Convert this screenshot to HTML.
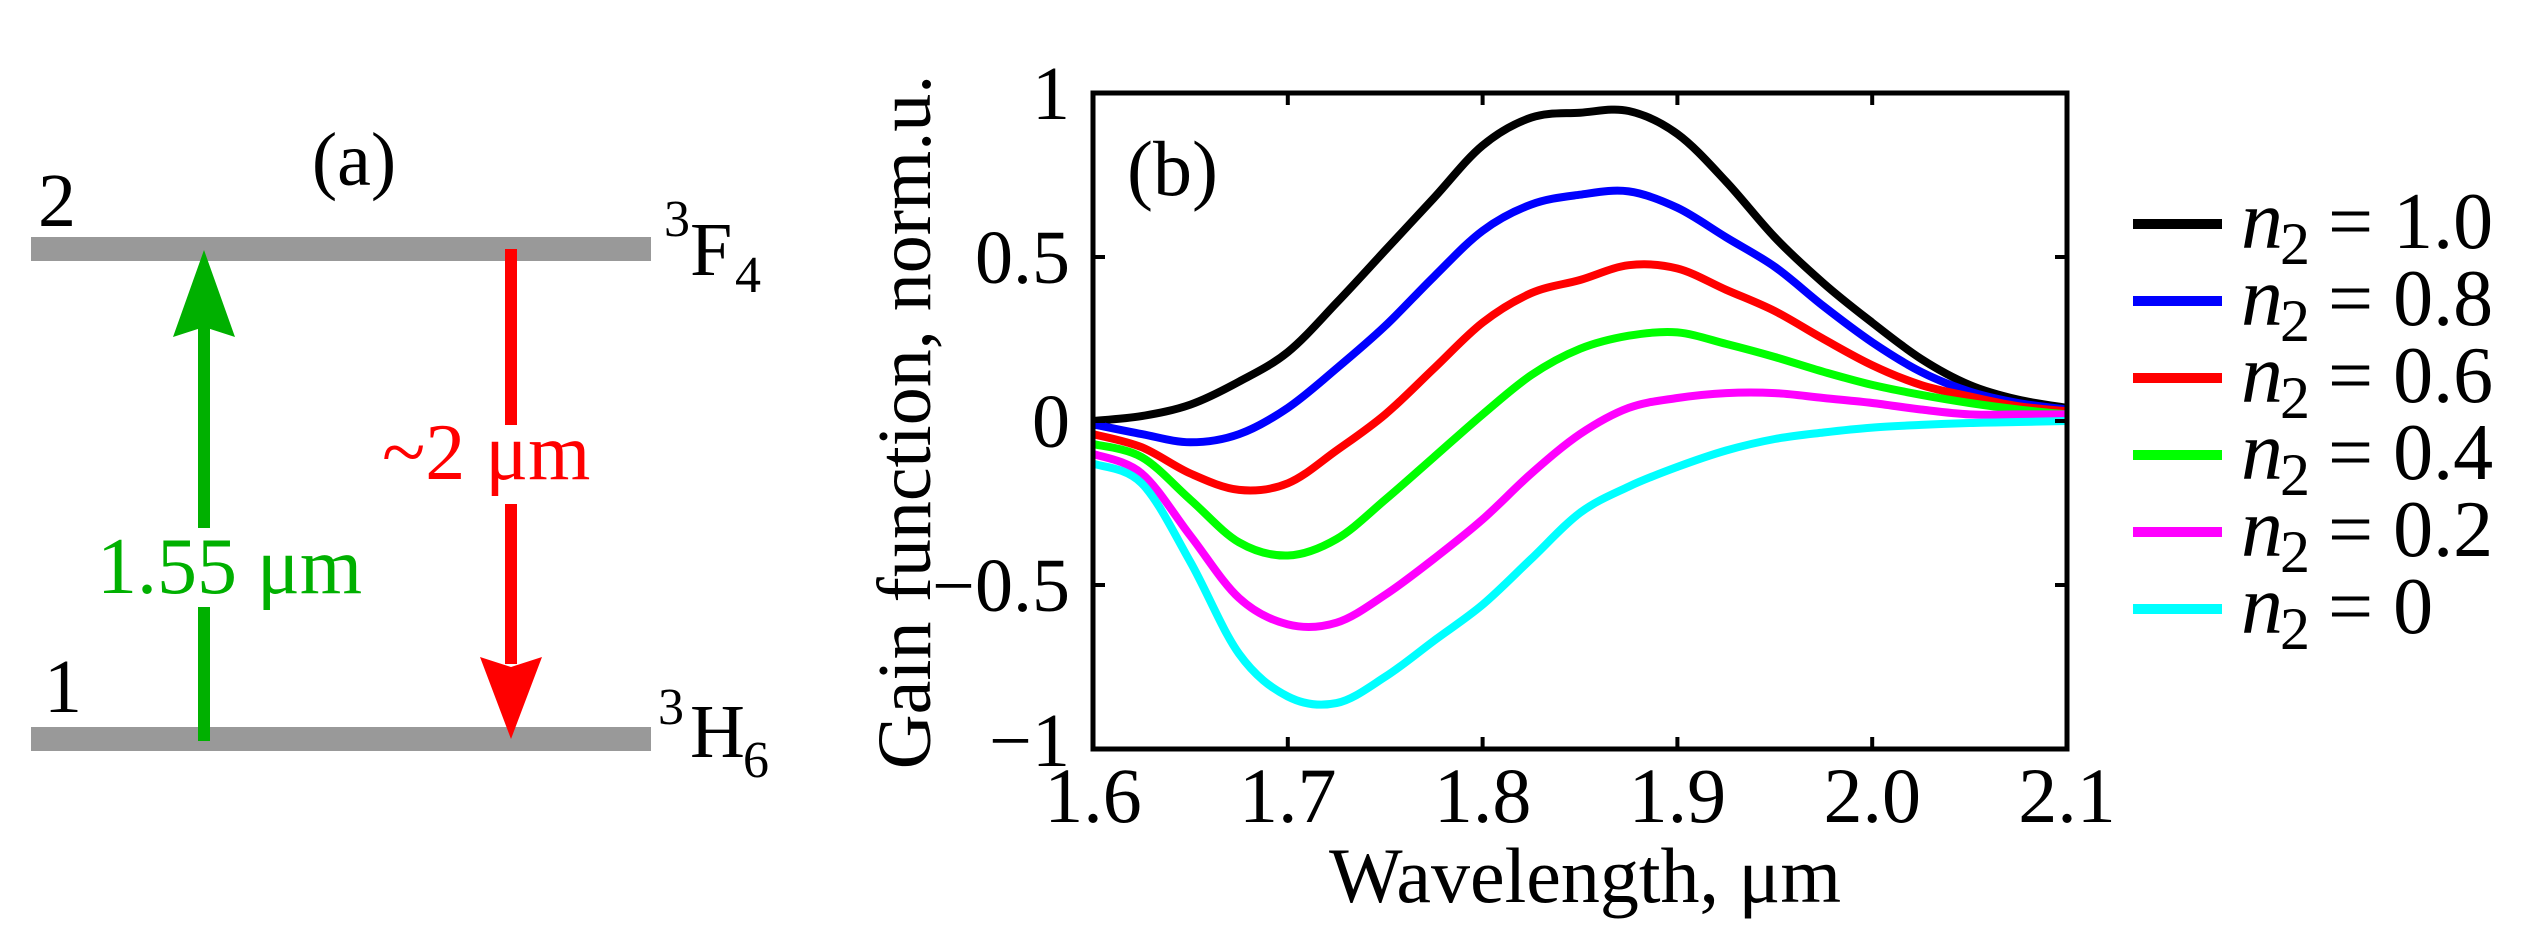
<!DOCTYPE html>
<html><head><meta charset="utf-8"><style>
html,body{margin:0;padding:0;background:#fff;}
svg{display:block;font-family:"Liberation Serif",serif;}
</style></head><body>
<svg id="fig" width="2541" height="951" viewBox="0 0 2541 951" xmlns="http://www.w3.org/2000/svg">
<g>
  <text x="354" y="185" font-size="76" text-anchor="middle">(a)</text>
  <rect x="31" y="237" width="620" height="24" fill="#999"/>
  <rect x="31" y="727" width="620" height="24" fill="#999"/>
  <text x="38" y="226" font-size="76">2</text>
  <text x="44" y="712" font-size="76">1</text>
  <g>
    <text x="664" y="236" font-size="52">3</text>
    <text x="690" y="275" font-size="76">F</text>
    <text x="735" y="292" font-size="52">4</text>
  </g>
  <g>
    <text x="658" y="724" font-size="52">3</text>
    <text x="690" y="757" font-size="76">H</text>
    <text x="743" y="777" font-size="52">6</text>
  </g>
  <g>
    <rect x="198" y="325" width="12" height="203" fill="#00b000"/>
    <rect x="198" y="607" width="12" height="134" fill="#00b000"/>
    <polygon points="204,250 173,337 204,327 235,337" fill="#00b000"/>
  </g>
  <text x="97" y="593" font-size="80" fill="#00b000">1.55 μm</text>
  <g>
    <rect x="505" y="249" width="12" height="176" fill="#ff0000"/>
    <rect x="505" y="504" width="12" height="160" fill="#ff0000"/>
    <polygon points="511,739 480,657 511,667 542,657" fill="#ff0000"/>
  </g>
  <text x="382" y="479" font-size="80" fill="#ff0000">~2 μm</text>
</g>
<g id="chart"></g>
</svg>
<script>
const xTicks = [1.6, 1.7, 1.8, 1.9, 2.0, 2.1];
const xTickLabels = ["1.6", "1.7", "1.8", "1.9", "2.0", "2.1"];
const yTicks = [-1, -0.5, 0, 0.5, 1];
const yTickLabels = ["\u22121", "\u22120.5", "0", "0.5", "1"];
const seriesNames = ["n2 = 1.0", "n2 = 0.8", "n2 = 0.6", "n2 = 0.4", "n2 = 0.2", "n2 = 0"];
const legendValues = ["1.0", "0.8", "0.6", "0.4", "0.2", "0"];
const seriesColors = ["#000000", "#0000ff", "#ff0000", "#00ff00", "#ff00ff", "#00ffff"];
const wl = [1.6, 1.625, 1.65, 1.675, 1.7, 1.725, 1.75, 1.775, 1.8, 1.825, 1.85, 1.875, 1.9, 1.925, 1.95, 1.975, 2.0, 2.025, 2.05, 2.075, 2.1];
const gainN10 = [0, 0.015, 0.05, 0.12, 0.21, 0.36, 0.52, 0.68, 0.84, 0.925, 0.94, 0.945, 0.875, 0.73, 0.56, 0.42, 0.30, 0.19, 0.11, 0.065, 0.04];
const gainN08 = [-0.01, -0.04, -0.065, -0.04, 0.04, 0.16, 0.29, 0.44, 0.58, 0.66, 0.69, 0.70, 0.65, 0.56, 0.47, 0.35, 0.24, 0.15, 0.09, 0.055, 0.035];
const gainN06 = [-0.04, -0.08, -0.16, -0.21, -0.19, -0.09, 0.02, 0.16, 0.30, 0.39, 0.43, 0.475, 0.465, 0.40, 0.335, 0.25, 0.17, 0.11, 0.075, 0.045, 0.03];
const gainN04 = [-0.07, -0.11, -0.24, -0.37, -0.41, -0.36, -0.24, -0.11, 0.02, 0.14, 0.22, 0.26, 0.27, 0.235, 0.195, 0.15, 0.11, 0.08, 0.055, 0.035, 0.02];
const gainN02 = [-0.10, -0.16, -0.35, -0.54, -0.62, -0.615, -0.53, -0.42, -0.30, -0.16, -0.04, 0.04, 0.07, 0.085, 0.085, 0.07, 0.055, 0.035, 0.02, 0.02, 0.02];
const gainN00 = [-0.13, -0.19, -0.43, -0.71, -0.84, -0.86, -0.78, -0.67, -0.56, -0.42, -0.28, -0.20, -0.14, -0.09, -0.055, -0.035, -0.02, -0.012, -0.006, -0.003, 0];
const allSeries = [gainN10, gainN08, gainN06, gainN04, gainN02, gainN00];

const NS = "http://www.w3.org/2000/svg";
const chart = document.getElementById("chart");
const L = 1093, R = 2067, T = 93, B = 749;
const xMin = 1.6, xMax = 2.1, yMin = -1, yMax = 1;
function xs(v){ return L + (v - xMin) / (xMax - xMin) * (R - L); }
function ys(v){ return B - (v - yMin) / (yMax - yMin) * (B - T); }
function mk(tag, attrs, parent){
  const e = document.createElementNS(NS, tag);
  for (const k in attrs) e.setAttribute(k, attrs[k]);
  (parent || chart).appendChild(e);
  return e;
}
function smoothPath(pts){
  let d = "M" + pts[0][0].toFixed(1) + "," + pts[0][1].toFixed(1);
  for (let i = 0; i < pts.length - 1; i++) {
    const p0 = pts[Math.max(0, i - 1)], p1 = pts[i], p2 = pts[i + 1], p3 = pts[Math.min(pts.length - 1, i + 2)];
    const c1x = p1[0] + (p2[0] - p0[0]) / 6, c1y = p1[1] + (p2[1] - p0[1]) / 6;
    const c2x = p2[0] - (p3[0] - p1[0]) / 6, c2y = p2[1] - (p3[1] - p1[1]) / 6;
    d += " C" + c1x.toFixed(1) + "," + c1y.toFixed(1) + " " + c2x.toFixed(1) + "," + c2y.toFixed(1) + " " + p2[0].toFixed(1) + "," + p2[1].toFixed(1);
  }
  return d;
}

const plotG = mk("g", {});


allSeries.forEach((s, i) => {
  const pts = s.map((v, j) => [xs(wl[j]), ys(v)]);
  const p = mk("path", {d: smoothPath(pts), fill: "none", stroke: seriesColors[i], "stroke-width": 8, "stroke-linejoin": "round"}, plotG);
  
  
});

const frame = mk("rect", {x: L, y: T, width: R - L, height: B - T, fill: "none", stroke: "#000", "stroke-width": 5});



xTicks.forEach((v, i) => {
  const x = xs(v);
  mk("line", {x1: x, y1: B, x2: x, y2: B - 12, stroke: "#000", "stroke-width": 4});
  mk("line", {x1: x, y1: T, x2: x, y2: T + 12, stroke: "#000", "stroke-width": 4});
  const t = mk("text", {x: x, y: 822, "font-size": 78, "text-anchor": "middle"});
  t.textContent = xTickLabels[i];
  
  
});
yTicks.forEach((v, i) => {
  const y = ys(v);
  mk("line", {x1: L, y1: y, x2: L + 12, y2: y, stroke: "#000", "stroke-width": 4});
  mk("line", {x1: R, y1: y, x2: R - 12, y2: y, stroke: "#000", "stroke-width": 4});
  const t = mk("text", {x: 1070, y: y + (v === -1 ? 17 : 26), "font-size": 76, "text-anchor": "end"});
  t.textContent = yTickLabels[i];
  
  
});

const xt = mk("text", {x: 1585, y: 902, "font-size": 78, "text-anchor": "middle"});
xt.textContent = "Wavelength, μm";



const yt = mk("text", {x: 0, y: 0, "font-size": 76, "text-anchor": "middle", transform: "translate(930,422) rotate(-90)"});
yt.textContent = "Gain function, norm.u.";



const pb = mk("text", {x: 1127, y: 195, "font-size": 78});
pb.textContent = "(b)";



const leg = mk("g", {});


seriesNames.forEach((n, i) => {
  const y = 224 + i * 77;
  const g = mk("g", {}, leg);
  
  
  mk("line", {x1: 2133, y1: y, x2: 2222, y2: y, stroke: seriesColors[i], "stroke-width": 10}, g);
  const t1 = mk("text", {x: 2241, y: y + 24, "font-size": 84, "font-style": "italic"}, g);
  t1.textContent = "n";
  const t2 = mk("text", {x: 2280, y: y + 40, "font-size": 60}, g);
  t2.textContent = "2";
  const t3 = mk("text", {x: 2328, y: y + 24, "font-size": 80}, g);
  t3.textContent = "= " + legendValues[i];
});
</script>
</body></html>
